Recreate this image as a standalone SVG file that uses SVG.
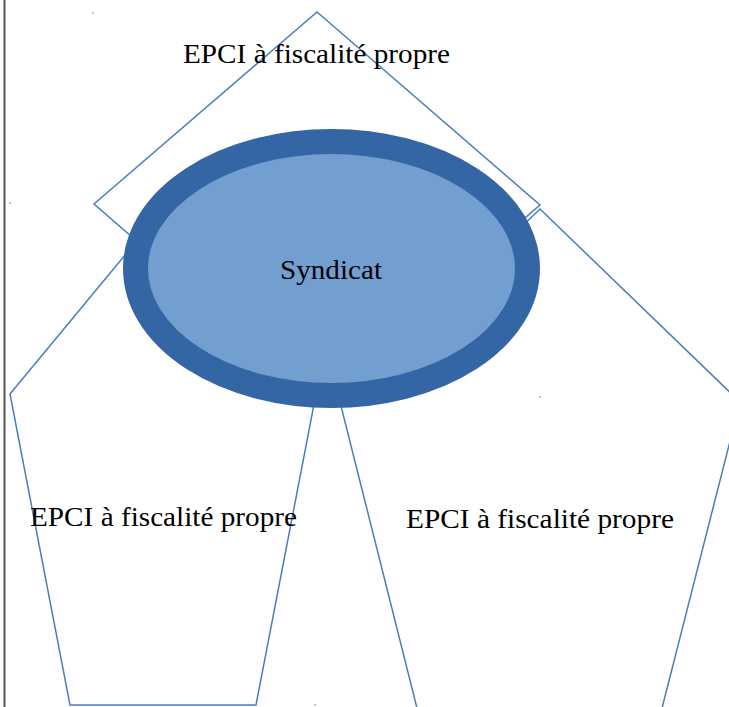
<svg xmlns="http://www.w3.org/2000/svg" width="729" height="707" viewBox="0 0 729 707">
<style>
.shape{fill:none;stroke:#4a7ebb;stroke-width:1.5;stroke-linejoin:miter}
.lbl{font-family:"Liberation Serif","Times New Roman",serif;font-size:27px;fill:#000;text-anchor:middle}
.dot{fill:#4a7ebb}
</style>
<rect x="0" y="0" width="729" height="707" fill="#fff"/>
<line x1="4.5" y1="0" x2="4.5" y2="707" stroke="#555" stroke-width="2"/>
<g id="connectors"></g>
<g id="node-left">
<polygon class="shape" points="164,208 316,394 256,705 70,705 10,394"/>
<text class="lbl" x="163.5" y="526" textLength="267" lengthAdjust="spacingAndGlyphs">EPCI à fiscalité propre</text>
</g>
<g id="node-right">
<polygon class="shape" points="540,209 740,402 658,724 421,724 340,402"/>
<text class="lbl" x="540" y="528" textLength="268" lengthAdjust="spacingAndGlyphs">EPCI à fiscalité propre</text>
</g>
<g id="node-top">
<polygon class="shape" points="317,12 540,205 317,397 94,204"/>
<text class="lbl" x="316.5" y="63" textLength="267" lengthAdjust="spacingAndGlyphs">EPCI à fiscalité propre</text>
</g>
<g id="node-syndicat">
<ellipse cx="331.5" cy="268.5" rx="196" ry="127" fill="#729fcf" stroke="#3465a5" stroke-width="25"/>
<text class="lbl" x="331" y="279" textLength="102" lengthAdjust="spacingAndGlyphs">Syndicat</text>
</g>
<circle class="dot" cx="93" cy="13" r="0.8"/>
<circle class="dot" cx="10" cy="203" r="0.8"/>
<circle class="dot" cx="540" cy="397" r="0.8"/>
<circle class="dot" cx="315" cy="705" r="0.8"/>
</svg>
